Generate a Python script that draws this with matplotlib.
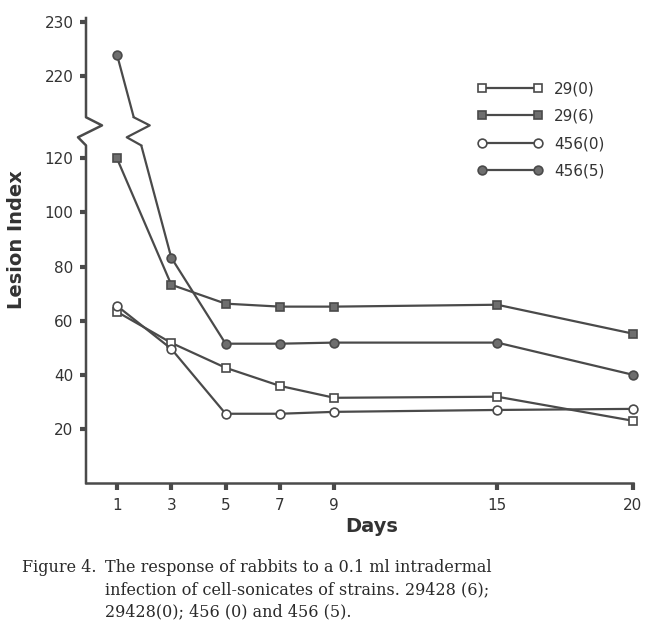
import numpy as np
import matplotlib
matplotlib.use("Agg")
import matplotlib.pyplot as plt

# ---------------- data ----------------
days = [1, 3, 5, 7, 9, 15, 20]
s29_0 = [63.3, 51.8, 42.6, 35.9, 31.5, 31.9, 23.0]
s29_6 = [120.0, 73.3, 66.3, 65.2, 65.2, 65.9, 55.2]
s456_0 = [65.5, 49.6, 25.6, 25.6, 26.3, 27.0, 27.4]
s456_5 = [224.0, 83.3, 51.5, 51.5, 51.9, 51.9, 40.0]
labels = ["29(0)", "29(6)", "456(0)", "456(5)"]
yticks = [20, 40, 60, 80, 100, 120, 220, 230]
xticks = [1, 3, 5, 7, 9, 15, 20]

# ---------------- broken y scale ----------------
B1, B2, T2 = 124.8, 212.4, 135.2
K = (T2 - B1) / (B2 - B1)


def fwd(v):
    v = np.asarray(v, dtype=float)
    return np.where(v <= B1, v, np.where(v <= B2, B1 + (v - B1) * K, T2 + 2.0 * (v - B2)))


def inv(t):
    t = np.asarray(t, dtype=float)
    return np.where(t <= B1, t, np.where(t <= T2, B1 + (t - B1) / K, B2 + (t - T2) / 2.0))


LINE = "#4a4a4a"
FILL = "#6e6e6e"
TXT = "#333333"

fig = plt.figure(figsize=(6.5, 6.24), dpi=100)
ax = fig.add_axes([86 / 650, 1 - 483 / 624, (633 - 86) / 650, (483 - 18) / 624])
ax.set_yscale("function", functions=(fwd, inv))
ax.set_xlim(-0.14, 20)
ax.set_ylim(0, float(inv(171.9)))

styles = [
    dict(marker="s", mfc="white", mec=LINE),
    dict(marker="s", mfc=FILL, mec=LINE),
    dict(marker="o", mfc="white", mec=LINE),
    dict(marker="o", mfc=FILL, mec=LINE),
]
series = [s29_0, s29_6, s456_0, s456_5]
handles = []
for vals, st, lab in zip(series, styles, labels):
    (h,) = ax.plot(days, vals, color=LINE, lw=1.6, ms=6.3, mew=1.2,
                   label=lab, clip_on=False, zorder=3, **st)
    handles.append(h)

# break zig-zag on the 456(5) line between day 1 and day 3
t0, t1 = float(fwd(s456_5[0])), float(fwd(s456_5[1]))


def x_at(t):
    return days[0] + (t0 - t) / (t0 - t1) * (days[1] - days[0])


xA, xB = x_at(T2), x_at(B1)
pxday = 547 / 20.14
ax.plot([xA, xB], [inv(T2), inv(B1)], color="white", lw=4, zorder=4,
        solid_capstyle="butt")
zx = [xA, xA + 16 / pxday, xA - 7 / pxday, xB]
zt = [T2, 132.2, 127.8, B1]
ax.plot(zx, inv(np.array(zt)), color=LINE, lw=1.6, zorder=5)

# left spine with zig-zag break
for s in ("left", "top", "right"):
    ax.spines[s].set_visible(False)
ax.spines["bottom"].set_color(LINE)
ax.spines["bottom"].set_linewidth(1.8)
ytr = ax.get_yaxis_transform()
ax.plot([0, 0, -8 / 547, 16 / 547, 0, 0],
        inv(np.array([0, B1, 127.8, 132.2, T2, 171.9])),
        transform=ytr, color=LINE, lw=1.8, clip_on=False, zorder=2)

ax.set_yticks(yticks)
ax.set_yticklabels([str(v) for v in yticks])
ax.set_xticks(xticks)
ax.set_xticklabels([str(v) for v in xticks])
ax.minorticks_off()
ax.tick_params(axis="y", direction="out", length=4, width=3, color=LINE,
               pad=5, labelsize=11, labelcolor=TXT)
ax.tick_params(axis="x", direction="out", length=5, width=3, color=LINE,
               pad=6, labelsize=11, labelcolor=TXT)

fig.text(17 / 650, 1 - 240 / 624, "Lesion Index", rotation=90, ha="center",
         va="center", fontsize=14, fontweight="bold", color=TXT)
fig.text(372 / 650, 1 - 527 / 624, "Days", ha="center", va="center",
         fontsize=14, fontweight="bold", color=TXT)

leg = ax.legend(handles=handles, loc="upper left",
                bbox_to_anchor=(477 / 650, 1 - 81 / 624),
                bbox_transform=fig.transFigure, frameon=False, numpoints=2,
                handlelength=4.3, handletextpad=0.75, labelspacing=0.82,
                fontsize=11, borderpad=0, borderaxespad=0)
for t in leg.get_texts():
    t.set_color(TXT)

cap = dict(family="DejaVu Serif", fontsize=11.5, color="#2a2a2a", va="baseline")
fig.text(22 / 650, 1 - 572 / 624, "Figure 4.", **cap)
fig.text(105 / 650, 1 - 572 / 624, "The response of rabbits to a 0.1 ml intradermal", **cap)
fig.text(105 / 650, 1 - 594 / 624, "infection of cell-sonicates of strains. 29428 (6);", **cap)
fig.text(105 / 650, 1 - 616 / 624, "29428(0); 456 (0) and 456 (5).", **cap)

fig.savefig("out.png", dpi=100, facecolor="white")
